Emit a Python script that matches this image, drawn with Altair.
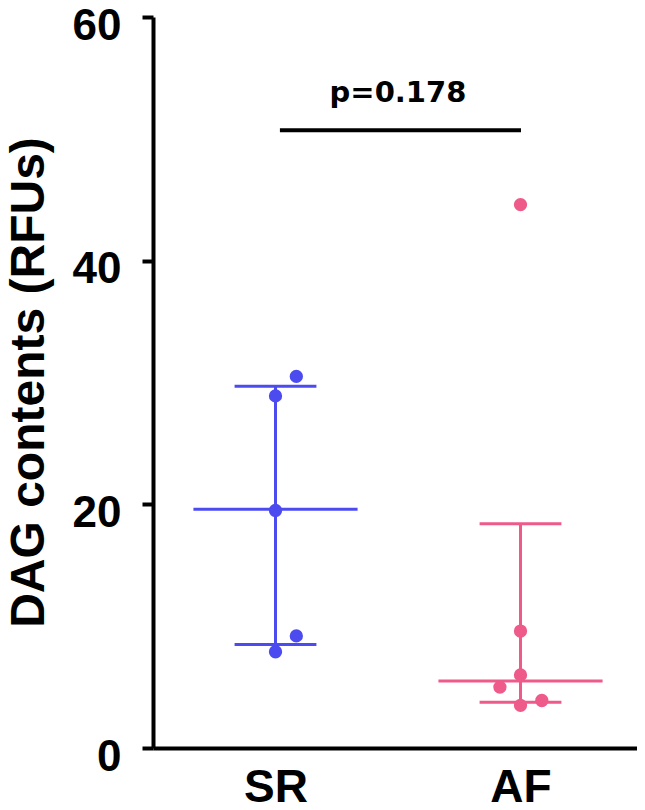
import altair as alt
import pandas as pd

# ---- data ----
groups = ["SR", "AF"]
group_pos = [1, 2]
sr_values = [30.5, 28.9, 19.5, 9.2, 7.9]
sr_jitter = [0.085, 0.0, 0.0, 0.085, 0.0]
af_values = [44.6, 9.6, 6.0, 5.0, 3.5, 3.9]
af_jitter = [0.0, 0.0, 0.0, -0.084, 0.0, 0.087]
medians = [19.6, 5.5]
q1 = [8.5, 3.75]
q3 = [29.7, 18.4]
p_text = "p=0.178"
p_bar_y = 50.7
p_text_y = 53.0
p_bar_x = [1.018, 2.002]

BLUE = "#4B4BEF"
PINK = "#EE5A8A"
FONT = "Liberation Sans"

pts = pd.DataFrame({
    "group": ["SR"] * len(sr_values) + ["AF"] * len(af_values),
    "value": sr_values + af_values,
    "jitter": sr_jitter + af_jitter,
})
pts["gx"] = pts["group"].map(dict(zip(groups, group_pos)))

summ = pd.DataFrame({"group": groups, "gx": group_pos, "median": medians, "q1": q1, "q3": q3})

color = alt.Color("group:N", scale=alt.Scale(domain=groups, range=[BLUE, PINK]), legend=None)

xscale = alt.Scale(domain=[0.5, 2.4755], nice=False, zero=False)
yscale = alt.Scale(domain=[0, 60], nice=False, zero=True)

xaxis = alt.Axis(
    values=group_pos, labelExpr="datum.value == 1 ? 'SR' : 'AF'", title=None,
    grid=False, ticks=False, tickSize=0, domainColor="black", domainWidth=4,
    labelFont=FONT, labelFontSize=46, labelFontWeight="bold", labelColor="black",
    labelBaseline="alphabetic", labelPadding=53, labelAngle=0,
)
yaxis = alt.Axis(
    values=[0, 20, 40, 60], grid=False, tickSize=11, tickWidth=4, tickColor="black",
    domainColor="black", domainWidth=4,
    labelFont=FONT, labelFontSize=44, labelFontWeight="bold", labelColor="black",
    labelPadding=21, labelBaseline="alphabetic", labelOffset=22,
    title="DAG contents (RFUs)", titleFont=FONT, titleFontSize=48, titleFontWeight="bold",
    titleColor="black", titleAngle=270, titleX=-110, titleY=365, titleAlign="center",
    titleBaseline="alphabetic",
)

base_pts = alt.Chart(pts).transform_calculate(px="datum.gx + datum.jitter")
points = base_pts.mark_circle(size=177, opacity=1).encode(
    x=alt.X("px:Q", scale=xscale, axis=xaxis),
    y=alt.Y("value:Q", scale=yscale, axis=yaxis),
    color=color,
)

base_s = alt.Chart(summ)
vline = base_s.mark_rule(strokeWidth=3).encode(
    x=alt.X("gx:Q", scale=xscale), y=alt.Y("q1:Q", scale=yscale), y2="q3:Q", color=color)
med = base_s.transform_calculate(a="datum.gx - 0.335", b="datum.gx + 0.335").mark_rule(strokeWidth=3).encode(
    x=alt.X("a:Q", scale=xscale), x2="b:Q", y=alt.Y("median:Q", scale=yscale), color=color)
cap_lo = base_s.transform_calculate(a="datum.gx - 0.167", b="datum.gx + 0.167").mark_rule(strokeWidth=3).encode(
    x=alt.X("a:Q", scale=xscale), x2="b:Q", y=alt.Y("q1:Q", scale=yscale), color=color)
cap_hi = base_s.transform_calculate(a="datum.gx - 0.167", b="datum.gx + 0.167").mark_rule(strokeWidth=3).encode(
    x=alt.X("a:Q", scale=xscale), x2="b:Q", y=alt.Y("q3:Q", scale=yscale), color=color)

pdf = pd.DataFrame({"x1": [p_bar_x[0]], "x2": [p_bar_x[1]], "y": [p_bar_y],
                    "tx": [sum(group_pos) / 2], "ty": [p_text_y], "t": [p_text]})
pbar = alt.Chart(pdf).mark_rule(strokeWidth=4, color="black").encode(
    x=alt.X("x1:Q", scale=xscale), x2="x2:Q", y=alt.Y("y:Q", scale=yscale))
ptxt = alt.Chart(pdf).mark_text(font="DejaVu Sans", fontSize=29, fontWeight="bold", color="black",
                                align="center", baseline="alphabetic").encode(
    x=alt.X("tx:Q", scale=xscale), y=alt.Y("ty:Q", scale=yscale), text="t:N")

chart = alt.layer(vline, med, cap_lo, cap_hi, points, pbar, ptxt).properties(
    width=484, height=731,
    autosize=alt.AutoSizeParams(type="none"),
    padding={"left": 145, "top": 9, "right": 0, "bottom": 54},
).configure_view(stroke=None)

chart.save("out.html", embed_options={"renderer": "svg", "actions": False})
